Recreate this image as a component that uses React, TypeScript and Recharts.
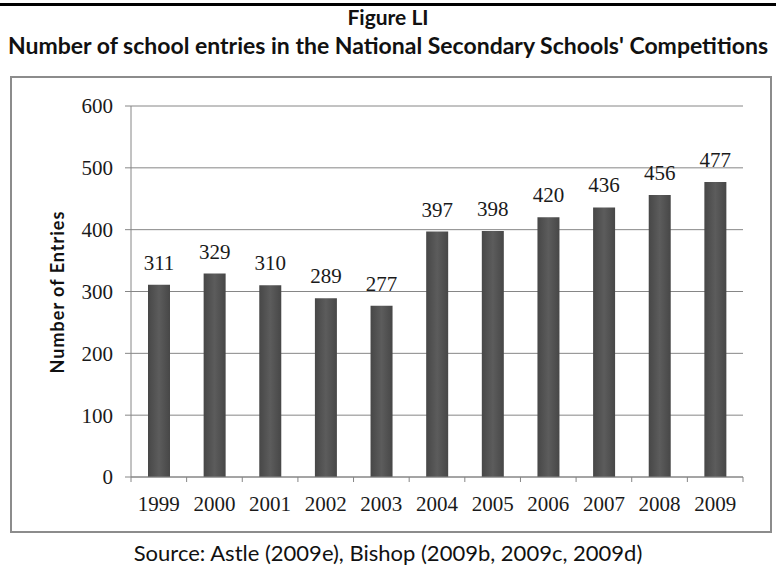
import React from 'react';
import { BarChart, Bar, XAxis, YAxis, CartesianGrid, LabelList } from 'recharts';

const years = ['1999', '2000', '2001', '2002', '2003', '2004', '2005', '2006', '2007', '2008', '2009'];
const entries = [311, 329, 310, 289, 277, 397, 398, 420, 436, 456, 477];
const yTicks = [0, 100, 200, 300, 400, 500, 600];
const titleLine1 = 'Figure LI';
const titleLine2 = "Number of school entries in the National Secondary Schools' Competitions";
const yAxisTitle = 'Number of Entries';
const sourceText = 'Source: Astle (2009e), Bishop (2009b, 2009c, 2009d)';

const data = years.map((year, i) => ({ year, entries: entries[i] }));

const SERIF = '"Liberation Serif", "DejaVu Serif", serif';
const SANS = 'Lato, "Open Sans", sans-serif';
const AXIS = '#868686';
const TEXT = '#1a1a1a';

function XTick(props: any) {
  const { x, y, payload, index, width } = props;
  const w = typeof width === 'number' && width > 0 ? width : 612.3;
  const half = w / years.length / 2;
  return (
    <g>
      <line x1={x - half} x2={x - half} y1={y} y2={y + 5} stroke={AXIS} strokeWidth={1} />
      {index === years.length - 1 ? (
        <line x1={x + half} x2={x + half} y1={y} y2={y + 5} stroke={AXIS} strokeWidth={1} />
      ) : null}
      <text x={x} y={y + 34} textAnchor="middle" fill={TEXT} fontFamily={SERIF} fontSize={21}>
        {payload.value}
      </text>
    </g>
  );
}

export default function App() {
  return (
    <div style={{ position: 'absolute', left: 0, top: 0, width: 776, height: 573, background: '#fff', overflow: 'hidden' }}>
      <div style={{ position: 'absolute', left: 0, top: 3, width: 776, height: 3, background: '#000' }} />
      <div style={{ position: 'absolute', left: 0, top: 3, width: 776, textAlign: 'center', fontFamily: SANS, fontWeight: 700, fontSize: 21, lineHeight: '28px', color: '#111' }}>
        {titleLine1}
      </div>
      <div style={{ position: 'absolute', left: 0, top: 30, width: 776, textAlign: 'center', fontFamily: SANS, fontWeight: 700, fontSize: 23, lineHeight: '30px', color: '#111', whiteSpace: 'nowrap' }}>
        {titleLine2}
      </div>
      <div style={{ position: 'absolute', left: 10, top: 76, width: 762, height: 457, boxSizing: 'border-box', border: '2px solid #8c8c8c' }} />
      <div style={{ position: 'absolute', left: 0, top: 0 }}>
        <BarChart
          width={776}
          height={573}
          data={data}
          margin={{ top: 106, right: 33, bottom: 56, left: 71 }}
          barSize={22}
        >
          <defs>
            <linearGradient id="barGrad" x1="0" y1="0" x2="1" y2="0">
              <stop offset="0%" stopColor="#474747" />
              <stop offset="50%" stopColor="#5c5c5c" />
              <stop offset="100%" stopColor="#474747" />
            </linearGradient>
          </defs>
          <CartesianGrid vertical={false} stroke={AXIS} strokeWidth={1} />
          <XAxis
            dataKey="year"
            height={40}
            axisLine={{ stroke: AXIS }}
            tickLine={false}
            tickSize={0}
            tickMargin={0}
            interval={0}
            tick={<XTick />}
          />
          <YAxis
            width={60}
            domain={[0, 600]}
            ticks={yTicks}
            interval={0}
            axisLine={{ stroke: AXIS }}
            tickLine={{ stroke: AXIS }}
            tickSize={6}
            tickMargin={12}
            tick={{ fill: TEXT, fontFamily: SERIF, fontSize: 21 }}
          />
          <Bar dataKey="entries" fill="url(#barGrad)" isAnimationActive={false}>
            <LabelList dataKey="entries" position="top" offset={15} fill={TEXT} fontFamily={SERIF} fontSize={21} />
          </Bar>
        </BarChart>
      </div>
      <div style={{ position: 'absolute', left: 57, top: 292, transform: 'translate(-50%, -50%) rotate(-90deg)', fontFamily: SANS, fontWeight: 700, fontSize: 18, letterSpacing: 1, color: '#111', whiteSpace: 'nowrap' }}>
        {yAxisTitle}
      </div>
      <div style={{ position: 'absolute', left: 0, top: 539, width: 776, textAlign: 'center', fontFamily: SANS, fontSize: 22, lineHeight: '28px', color: '#111', whiteSpace: 'nowrap' }}>
        {sourceText}
      </div>
    </div>
  );
}
